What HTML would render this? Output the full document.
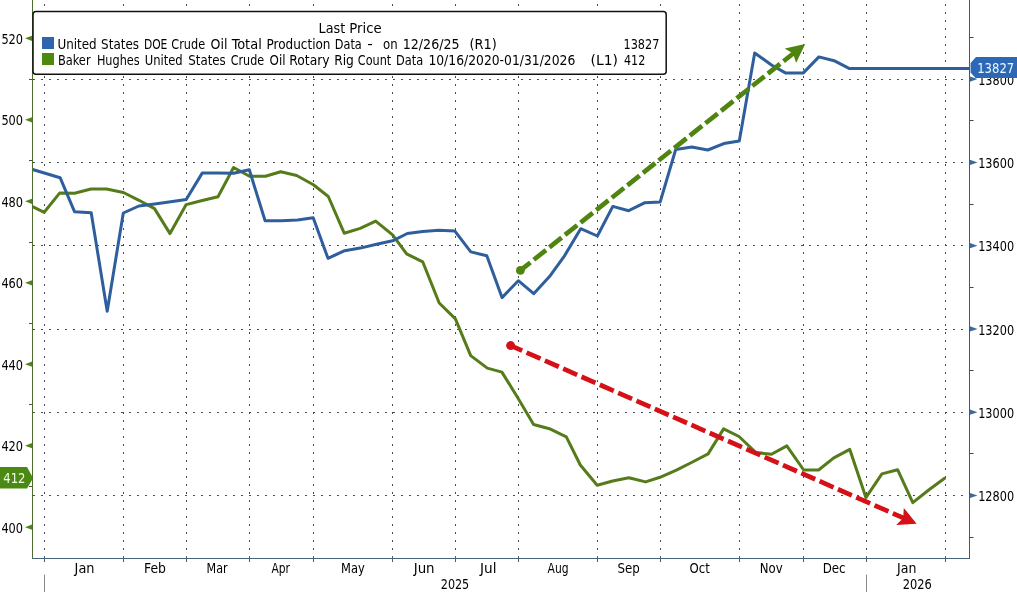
<!DOCTYPE html>
<html><head><meta charset="utf-8"><title>Crude production vs rig count</title>
<style>
html,body{margin:0;padding:0;background:#fff;}
body{width:1017px;height:592px;overflow:hidden;}
svg{display:block;will-change:transform;}
text{font-family:"DejaVu Sans Condensed", "DejaVu Sans", "Liberation Sans", sans-serif;}
</style></head>
<body>
<svg width="1017" height="592" viewBox="0 0 1017 592">
<rect width="1017" height="592" fill="#fff"/>
<line x1="44.5" y1="0" x2="44.5" y2="558" stroke="#4a4a4a" stroke-width="1" stroke-dasharray="2 6" stroke-dashoffset="4"/>
<line x1="123.5" y1="0" x2="123.5" y2="558" stroke="#4a4a4a" stroke-width="1" stroke-dasharray="2 6" stroke-dashoffset="4"/>
<line x1="186.5" y1="0" x2="186.5" y2="558" stroke="#4a4a4a" stroke-width="1" stroke-dasharray="2 6" stroke-dashoffset="4"/>
<line x1="249.5" y1="0" x2="249.5" y2="558" stroke="#4a4a4a" stroke-width="1" stroke-dasharray="2 6" stroke-dashoffset="4"/>
<line x1="313.5" y1="0" x2="313.5" y2="558" stroke="#4a4a4a" stroke-width="1" stroke-dasharray="2 6" stroke-dashoffset="4"/>
<line x1="392.5" y1="0" x2="392.5" y2="558" stroke="#4a4a4a" stroke-width="1" stroke-dasharray="2 6" stroke-dashoffset="4"/>
<line x1="455.5" y1="0" x2="455.5" y2="558" stroke="#4a4a4a" stroke-width="1" stroke-dasharray="2 6" stroke-dashoffset="4"/>
<line x1="518.5" y1="0" x2="518.5" y2="558" stroke="#4a4a4a" stroke-width="1" stroke-dasharray="2 6" stroke-dashoffset="4"/>
<line x1="597.5" y1="0" x2="597.5" y2="558" stroke="#4a4a4a" stroke-width="1" stroke-dasharray="2 6" stroke-dashoffset="4"/>
<line x1="660.5" y1="0" x2="660.5" y2="558" stroke="#4a4a4a" stroke-width="1" stroke-dasharray="2 6" stroke-dashoffset="4"/>
<line x1="739.5" y1="0" x2="739.5" y2="558" stroke="#4a4a4a" stroke-width="1" stroke-dasharray="2 6" stroke-dashoffset="4"/>
<line x1="803.5" y1="0" x2="803.5" y2="558" stroke="#4a4a4a" stroke-width="1" stroke-dasharray="2 6" stroke-dashoffset="4"/>
<line x1="866.5" y1="0" x2="866.5" y2="558" stroke="#4a4a4a" stroke-width="1" stroke-dasharray="2 6" stroke-dashoffset="4"/>
<line x1="945.5" y1="0" x2="945.5" y2="558" stroke="#4a4a4a" stroke-width="1" stroke-dasharray="2 6" stroke-dashoffset="4"/>
<line x1="33" y1="79.5" x2="969" y2="79.5" stroke="#4a4a4a" stroke-width="1" stroke-dasharray="2 6" stroke-dashoffset="-32"/>
<line x1="33" y1="162.5" x2="969" y2="162.5" stroke="#4a4a4a" stroke-width="1" stroke-dasharray="2 6" stroke-dashoffset="-32"/>
<line x1="33" y1="245.5" x2="969" y2="245.5" stroke="#4a4a4a" stroke-width="1" stroke-dasharray="2 6" stroke-dashoffset="-32"/>
<line x1="33" y1="329.5" x2="969" y2="329.5" stroke="#4a4a4a" stroke-width="1" stroke-dasharray="2 6" stroke-dashoffset="-32"/>
<line x1="33" y1="412.5" x2="969" y2="412.5" stroke="#4a4a4a" stroke-width="1" stroke-dasharray="2 6" stroke-dashoffset="-32"/>
<line x1="33" y1="495.5" x2="969" y2="495.5" stroke="#4a4a4a" stroke-width="1" stroke-dasharray="2 6" stroke-dashoffset="-32"/>
<polyline points="32.6,206.7 44.2,212.3 59.6,193.1 74.5,193.2 91.0,189.0 106.5,189.0 123.4,192.5 139.0,200.3 154.5,208.6 170.0,233.6 186.2,204.6 202.2,200.5 218.0,196.8 233.6,167.5 249.5,176.3 265.5,176.3 280.7,171.7 296.7,175.5 313.4,184.7 328.3,196.5 344.2,233.2 360.2,228.4 375.7,221.1 392.6,234.8 406.6,253.8 422.7,261.8 439.2,303.0 455.4,318.9 470.7,355.6 487.3,368.1 501.9,372.1 518.2,398.5 533.6,424.5 549.4,428.7 566.3,436.8 580.3,465.0 597.2,485.3 612.7,481.0 628.8,477.7 645.6,481.9 660.0,477.3 676.4,470.1 692.5,462.0 708.1,453.9 723.6,428.9 739.0,436.5 755.9,452.5 771.5,454.2 786.8,445.9 803.7,470.0 818.6,470.0 833.8,457.9 849.8,449.4 865.9,497.6 881.9,473.9 897.6,469.7 912.8,502.6 928.7,490.0 945.3,477.8" fill="none" stroke="#557b1a" stroke-width="3" stroke-linejoin="round"/>
<polyline points="32.6,169.5 60.1,177.7 74.5,211.7 91.2,212.7 107.2,311.3 123.3,213.0 138.9,206.0 154.7,204.0 170.7,201.8 186.2,199.5 202.2,173.1 218.0,173.1 233.6,173.3 249.3,169.8 265.1,220.7 281.5,220.7 297.5,220.1 313.2,217.8 328.0,258.3 344.7,250.7 360.2,248.1 376.5,244.2 392.6,240.8 407.3,233.5 422.7,231.5 438.9,230.3 454.9,231.1 470.8,251.9 486.8,255.7 502.0,297.6 518.3,280.7 533.7,293.7 549.5,276.6 564.5,255.8 580.7,228.7 597.4,236.0 612.8,206.4 628.7,210.7 645.0,202.7 660.2,201.9 675.7,149.5 691.8,147.0 707.8,150.0 723.8,143.6 739.3,140.9 754.7,53.0 771.5,65.0 785.8,73.1 803.1,73.1 818.9,56.9 834.1,60.7 849.0,68.4 969.0,68.4" fill="none" stroke="#2e5e9c" stroke-width="3" stroke-linejoin="round"/>
<line x1="32.5" y1="0" x2="32.5" y2="559" stroke="#4e6e30" stroke-width="1"/>
<line x1="969.5" y1="0" x2="969.5" y2="559" stroke="#3f5a72" stroke-width="1"/>
<line x1="32" y1="558.5" x2="970" y2="558.5" stroke="#48627a" stroke-width="1"/>
<line x1="44.5" y1="556" x2="44.5" y2="562" stroke="#48627a" stroke-width="1"/>
<line x1="123.5" y1="556" x2="123.5" y2="562" stroke="#48627a" stroke-width="1"/>
<line x1="186.5" y1="556" x2="186.5" y2="562" stroke="#48627a" stroke-width="1"/>
<line x1="249.5" y1="556" x2="249.5" y2="562" stroke="#48627a" stroke-width="1"/>
<line x1="313.5" y1="556" x2="313.5" y2="562" stroke="#48627a" stroke-width="1"/>
<line x1="392.5" y1="556" x2="392.5" y2="562" stroke="#48627a" stroke-width="1"/>
<line x1="455.5" y1="556" x2="455.5" y2="562" stroke="#48627a" stroke-width="1"/>
<line x1="518.5" y1="556" x2="518.5" y2="562" stroke="#48627a" stroke-width="1"/>
<line x1="597.5" y1="556" x2="597.5" y2="562" stroke="#48627a" stroke-width="1"/>
<line x1="660.5" y1="556" x2="660.5" y2="562" stroke="#48627a" stroke-width="1"/>
<line x1="739.5" y1="556" x2="739.5" y2="562" stroke="#48627a" stroke-width="1"/>
<line x1="803.5" y1="556" x2="803.5" y2="562" stroke="#48627a" stroke-width="1"/>
<line x1="866.5" y1="556" x2="866.5" y2="562" stroke="#48627a" stroke-width="1"/>
<line x1="945.5" y1="556" x2="945.5" y2="562" stroke="#48627a" stroke-width="1"/>
<line x1="44.5" y1="574.5" x2="44.5" y2="592" stroke="#8a8a8a" stroke-width="1"/>
<line x1="866.5" y1="574.5" x2="866.5" y2="592" stroke="#8a8a8a" stroke-width="1"/>
<polygon points="25,527.2 32,524.6 32,529.8" fill="#4f8418"/>
<polygon points="25,445.7 32,443.1 32,448.3" fill="#4f8418"/>
<polygon points="25,364.2 32,361.6 32,366.8" fill="#4f8418"/>
<polygon points="25,282.8 32,280.2 32,285.4" fill="#4f8418"/>
<polygon points="25,201.3 32,198.7 32,203.9" fill="#4f8418"/>
<polygon points="25,119.8 32,117.2 32,122.4" fill="#4f8418"/>
<polygon points="25,38.3 32,35.7 32,40.9" fill="#4f8418"/>
<line x1="29" y1="486.5" x2="32" y2="486.5" stroke="#505050" stroke-width="1"/>
<line x1="29" y1="404.5" x2="32" y2="404.5" stroke="#505050" stroke-width="1"/>
<line x1="29" y1="323.5" x2="32" y2="323.5" stroke="#505050" stroke-width="1"/>
<line x1="29" y1="242.5" x2="32" y2="242.5" stroke="#505050" stroke-width="1"/>
<line x1="29" y1="160.5" x2="32" y2="160.5" stroke="#505050" stroke-width="1"/>
<line x1="29" y1="79.5" x2="32" y2="79.5" stroke="#505050" stroke-width="1"/>
<polygon points="977.5,495.5 970,492.9 970,498.1" fill="#3d6a9a"/>
<polygon points="977.5,412.2 970,409.6 970,414.8" fill="#3d6a9a"/>
<polygon points="977.5,328.9 970,326.3 970,331.5" fill="#3d6a9a"/>
<polygon points="977.5,245.7 970,243.1 970,248.3" fill="#3d6a9a"/>
<polygon points="977.5,162.4 970,159.8 970,165.0" fill="#3d6a9a"/>
<polygon points="977.5,79.1 970,76.5 970,81.7" fill="#3d6a9a"/>
<line x1="970" y1="537.5" x2="973.5" y2="537.5" stroke="#3a4a5a" stroke-width="1"/>
<line x1="970" y1="453.5" x2="973.5" y2="453.5" stroke="#3a4a5a" stroke-width="1"/>
<line x1="970" y1="370.5" x2="973.5" y2="370.5" stroke="#3a4a5a" stroke-width="1"/>
<line x1="970" y1="287.5" x2="973.5" y2="287.5" stroke="#3a4a5a" stroke-width="1"/>
<line x1="970" y1="204.5" x2="973.5" y2="204.5" stroke="#3a4a5a" stroke-width="1"/>
<line x1="970" y1="120.5" x2="973.5" y2="120.5" stroke="#3a4a5a" stroke-width="1"/>
<line x1="970" y1="37.5" x2="973.5" y2="37.5" stroke="#3a4a5a" stroke-width="1"/>
<line x1="520.4" y1="270.4" x2="795.1" y2="52.0" stroke="#4f8410" stroke-width="4.7" stroke-dasharray="15.6 4.34" stroke-dashoffset="2.85"/>
<circle cx="520.4" cy="270.4" r="4.4" fill="#4f8410"/>
<polygon points="805.2,44.0 796.1,62.9 793.1,53.6 784.7,48.6" fill="#4f8410"/>
<line x1="510.6" y1="345.6" x2="905.5" y2="518.9" stroke="#d51016" stroke-width="4.7" stroke-dasharray="15.2 4.8" stroke-dashoffset="2.55"/>
<circle cx="510.6" cy="345.6" r="4.5" fill="#d51016"/>
<polygon points="916.6,523.8 896.2,525.1 903.2,517.9 903.8,507.9" fill="#d51016"/>
<rect x="33" y="11.5" width="633.2" height="62.7" rx="3" ry="3" fill="#ffffff" stroke="#111" stroke-width="1.5"/>
<rect x="42" y="37" width="12" height="12" fill="#2f64b0"/>
<rect x="42" y="53" width="12" height="12" fill="#4a8a0e"/>
<text x="318.6" y="32.5" text-anchor="start" fill="#000000" font-size="13.4" textLength="26.6" lengthAdjust="spacingAndGlyphs">Last</text>
<text x="349.3" y="32.5" text-anchor="start" fill="#000000" font-size="13.4" textLength="32.3" lengthAdjust="spacingAndGlyphs">Price</text>
<text x="57.5" y="48.9" text-anchor="start" fill="#000000" font-size="13.4" textLength="39.2" lengthAdjust="spacingAndGlyphs">United</text>
<text x="101.1" y="48.9" text-anchor="start" fill="#000000" font-size="13.4" textLength="37.9" lengthAdjust="spacingAndGlyphs">States</text>
<text x="143.9" y="48.9" text-anchor="start" fill="#000000" font-size="13.4" textLength="23.5" lengthAdjust="spacingAndGlyphs">DOE</text>
<text x="171.3" y="48.9" text-anchor="start" fill="#000000" font-size="13.4" textLength="33.8" lengthAdjust="spacingAndGlyphs">Crude</text>
<text x="210.5" y="48.9" text-anchor="start" fill="#000000" font-size="13.4" textLength="16.9" lengthAdjust="spacingAndGlyphs">Oil</text>
<text x="231.7" y="48.9" text-anchor="start" fill="#000000" font-size="13.4" textLength="30.1" lengthAdjust="spacingAndGlyphs">Total</text>
<text x="266.5" y="48.9" text-anchor="start" fill="#000000" font-size="13.4" textLength="64.0" lengthAdjust="spacingAndGlyphs">Production</text>
<text x="334.8" y="48.9" text-anchor="start" fill="#000000" font-size="13.4" textLength="27.0" lengthAdjust="spacingAndGlyphs">Data</text>
<text x="367.2" y="48.9" text-anchor="start" fill="#000000" font-size="13.4" textLength="5.6" lengthAdjust="spacingAndGlyphs">-</text>
<text x="383.1" y="48.9" text-anchor="start" fill="#000000" font-size="13.4" textLength="14.6" lengthAdjust="spacingAndGlyphs">on</text>
<text x="402.8" y="48.9" text-anchor="start" fill="#000000" font-size="13.4" textLength="56.7" lengthAdjust="spacingAndGlyphs">12/26/25</text>
<text x="469.5" y="48.9" text-anchor="start" fill="#000000" font-size="13.4" textLength="27.3" lengthAdjust="spacingAndGlyphs">(R1)</text>
<text x="623.5" y="48.9" text-anchor="start" fill="#000000" font-size="13.4" textLength="35.9" lengthAdjust="spacingAndGlyphs">13827</text>
<text x="57.9" y="64.7" text-anchor="start" fill="#000000" font-size="13.4" textLength="32.7" lengthAdjust="spacingAndGlyphs">Baker</text>
<text x="96.9" y="64.7" text-anchor="start" fill="#000000" font-size="13.4" textLength="42.7" lengthAdjust="spacingAndGlyphs">Hughes</text>
<text x="144.7" y="64.7" text-anchor="start" fill="#000000" font-size="13.4" textLength="38.0" lengthAdjust="spacingAndGlyphs">United</text>
<text x="188.3" y="64.7" text-anchor="start" fill="#000000" font-size="13.4" textLength="37.5" lengthAdjust="spacingAndGlyphs">States</text>
<text x="230.7" y="64.7" text-anchor="start" fill="#000000" font-size="13.4" textLength="33.4" lengthAdjust="spacingAndGlyphs">Crude</text>
<text x="269.6" y="64.7" text-anchor="start" fill="#000000" font-size="13.4" textLength="16.0" lengthAdjust="spacingAndGlyphs">Oil</text>
<text x="289.3" y="64.7" text-anchor="start" fill="#000000" font-size="13.4" textLength="40.3" lengthAdjust="spacingAndGlyphs">Rotary</text>
<text x="334.2" y="64.7" text-anchor="start" fill="#000000" font-size="13.4" textLength="19.7" lengthAdjust="spacingAndGlyphs">Rig</text>
<text x="357.8" y="64.7" text-anchor="start" fill="#000000" font-size="13.4" textLength="33.4" lengthAdjust="spacingAndGlyphs">Count</text>
<text x="396.1" y="64.7" text-anchor="start" fill="#000000" font-size="13.4" textLength="27.2" lengthAdjust="spacingAndGlyphs">Data</text>
<text x="428.4" y="64.7" text-anchor="start" fill="#000000" font-size="13.4" textLength="146.9" lengthAdjust="spacingAndGlyphs">10/16/2020-01/31/2026</text>
<text x="590.6" y="64.7" text-anchor="start" fill="#000000" font-size="13.4" textLength="27.4" lengthAdjust="spacingAndGlyphs">(L1)</text>
<text x="624.0" y="64.7" text-anchor="start" fill="#000000" font-size="13.4" textLength="21.3" lengthAdjust="spacingAndGlyphs">412</text>
<text x="1.4" y="532.6" text-anchor="start" fill="#000000" font-size="13.4" textLength="21.7" lengthAdjust="spacingAndGlyphs">400</text>
<text x="1.4" y="451.1" text-anchor="start" fill="#000000" font-size="13.4" textLength="21.7" lengthAdjust="spacingAndGlyphs">420</text>
<text x="1.4" y="369.6" text-anchor="start" fill="#000000" font-size="13.4" textLength="21.7" lengthAdjust="spacingAndGlyphs">440</text>
<text x="1.4" y="288.2" text-anchor="start" fill="#000000" font-size="13.4" textLength="21.7" lengthAdjust="spacingAndGlyphs">460</text>
<text x="1.4" y="206.7" text-anchor="start" fill="#000000" font-size="13.4" textLength="21.7" lengthAdjust="spacingAndGlyphs">480</text>
<text x="1.4" y="125.2" text-anchor="start" fill="#000000" font-size="13.4" textLength="21.7" lengthAdjust="spacingAndGlyphs">500</text>
<text x="1.4" y="43.7" text-anchor="start" fill="#000000" font-size="13.4" textLength="21.7" lengthAdjust="spacingAndGlyphs">520</text>
<text x="978.2" y="501.1" text-anchor="start" fill="#000000" font-size="13.4" textLength="35.9" lengthAdjust="spacingAndGlyphs">12800</text>
<text x="978.2" y="417.8" text-anchor="start" fill="#000000" font-size="13.4" textLength="35.9" lengthAdjust="spacingAndGlyphs">13000</text>
<text x="978.2" y="334.5" text-anchor="start" fill="#000000" font-size="13.4" textLength="35.9" lengthAdjust="spacingAndGlyphs">13200</text>
<text x="978.2" y="251.3" text-anchor="start" fill="#000000" font-size="13.4" textLength="35.9" lengthAdjust="spacingAndGlyphs">13400</text>
<text x="978.2" y="168.0" text-anchor="start" fill="#000000" font-size="13.4" textLength="35.9" lengthAdjust="spacingAndGlyphs">13600</text>
<text x="978.2" y="84.7" text-anchor="start" fill="#000000" font-size="13.4" textLength="35.9" lengthAdjust="spacingAndGlyphs">13800</text>
<text x="74.6" y="572.8" text-anchor="start" fill="#000000" font-size="13.4" textLength="19.9" lengthAdjust="spacingAndGlyphs">Jan</text>
<text x="144.0" y="572.8" text-anchor="start" fill="#000000" font-size="13.4" textLength="21.9" lengthAdjust="spacingAndGlyphs">Feb</text>
<text x="206.6" y="572.8" text-anchor="start" fill="#000000" font-size="13.4" textLength="21.0" lengthAdjust="spacingAndGlyphs">Mar</text>
<text x="271.4" y="572.8" text-anchor="start" fill="#000000" font-size="13.4" textLength="18.5" lengthAdjust="spacingAndGlyphs">Apr</text>
<text x="341.0" y="572.8" text-anchor="start" fill="#000000" font-size="13.4" textLength="23.7" lengthAdjust="spacingAndGlyphs">May</text>
<text x="413.7" y="572.8" text-anchor="start" fill="#000000" font-size="13.4" textLength="20.9" lengthAdjust="spacingAndGlyphs">Jun</text>
<text x="480.1" y="572.8" text-anchor="start" fill="#000000" font-size="13.4" textLength="16.5" lengthAdjust="spacingAndGlyphs">Jul</text>
<text x="547.6" y="572.8" text-anchor="start" fill="#000000" font-size="13.4" textLength="21.0" lengthAdjust="spacingAndGlyphs">Aug</text>
<text x="617.4" y="572.8" text-anchor="start" fill="#000000" font-size="13.4" textLength="22.3" lengthAdjust="spacingAndGlyphs">Sep</text>
<text x="689.6" y="572.8" text-anchor="start" fill="#000000" font-size="13.4" textLength="20.3" lengthAdjust="spacingAndGlyphs">Oct</text>
<text x="759.7" y="572.8" text-anchor="start" fill="#000000" font-size="13.4" textLength="22.9" lengthAdjust="spacingAndGlyphs">Nov</text>
<text x="822.7" y="572.8" text-anchor="start" fill="#000000" font-size="13.4" textLength="22.9" lengthAdjust="spacingAndGlyphs">Dec</text>
<text x="897.0" y="572.8" text-anchor="start" fill="#000000" font-size="13.4" textLength="19.4" lengthAdjust="spacingAndGlyphs">Jan</text>
<text x="440.8" y="588.6" text-anchor="start" fill="#000000" font-size="13.4" textLength="28.4" lengthAdjust="spacingAndGlyphs">2025</text>
<text x="902.7" y="588.6" text-anchor="start" fill="#000000" font-size="13.4" textLength="29.1" lengthAdjust="spacingAndGlyphs">2026</text>
<polygon points="970.6,63 976,57 1017,57 1017,78 975.5,78 970.6,72.5" fill="#2b69b6"/>
<text x="977.2" y="72.6" text-anchor="start" fill="#f2f6ff" font-size="13.4" textLength="37.0" lengthAdjust="spacingAndGlyphs">13827</text>
<polygon points="0,467 27,467 32,476 32,480 27,488.5 0,488.5" fill="#4a8a12"/>
<text x="3.3" y="482.6" text-anchor="start" fill="#f4fae8" font-size="13.4" textLength="22.2" lengthAdjust="spacingAndGlyphs">412</text>
</svg>
</body></html>
